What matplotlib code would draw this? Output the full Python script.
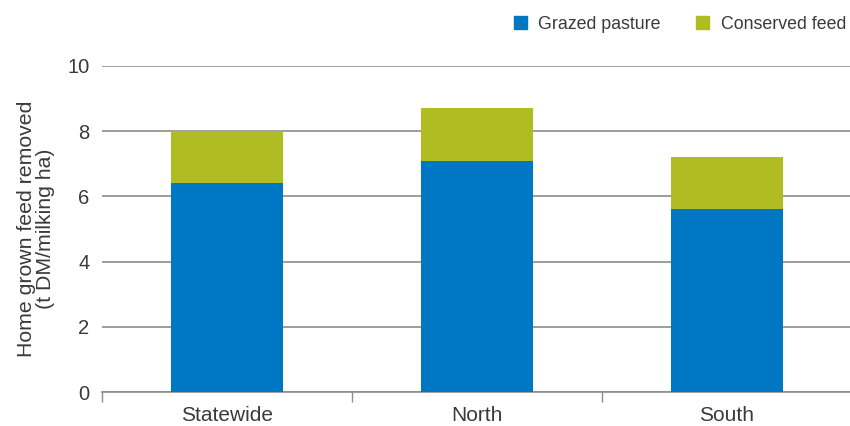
import matplotlib
matplotlib.use("Agg")
import matplotlib.pyplot as plt
from matplotlib.patches import Patch

regions = ["Statewide", "North", "South"]
grazed_pasture = [6.4, 7.1, 5.6]
conserved_feed = [1.6, 1.6, 1.6]
y_ticks = [0, 2, 4, 6, 8, 10]

blue = "#0077C2"
green = "#AFBC22"
text_color = "#3A3A3A"
grid_color = "#8C8C8C"

plt.rcParams["font.family"] = ["Liberation Sans", "DejaVu Sans"]

fig = plt.figure(figsize=(8.5, 4.26), dpi=100)
ax = fig.add_axes([102 / 850, 1 - 392 / 426, 750 / 850, (392 - 66) / 426])

x = list(range(len(regions)))
ax.bar(x, grazed_pasture, width=0.45, color=blue, zorder=3)
ax.bar(x, conserved_feed, width=0.45, bottom=grazed_pasture, color=green, zorder=3)

ax.set_xlim(-0.5, 2.5)
ax.set_ylim(0, 10)
ax.set_yticks(y_ticks)
ax.set_yticklabels([str(v) for v in y_ticks], fontsize=14.5, color=text_color)
ax.tick_params(axis="y", length=0, pad=9)

# category labels centred under bars, boundary ticks between categories
ax.set_xticks([-0.5, 0.5, 1.5])
ax.set_xticklabels([])
ax.tick_params(axis="x", length=7, width=1, color=grid_color, direction="out")
for xi, name in zip(x, regions):
    ax.text(xi, -0.42, name, ha="center", va="top", fontsize=15,
            color=text_color, transform=ax.transData, clip_on=False)

ax.yaxis.grid(True, color=grid_color, linewidth=1.2, zorder=0)
for side in ["top", "right", "left"]:
    ax.spines[side].set_visible(False)
ax.spines["bottom"].set_color(grid_color)
ax.spines["bottom"].set_linewidth(1.2)

ax.set_ylabel("Home grown feed removed\n(t DM/milking ha)", fontsize=15.3,
              color=text_color, linespacing=1.0, labelpad=9)

handles = [Patch(color=blue, label="Grazed pasture"),
           Patch(color=green, label="Conserved feed")]
fig.legend(handles=handles, loc="upper right", bbox_to_anchor=(1.014, 1.0),
           ncol=2, frameon=False, fontsize=12.8, handlelength=0.75,
           handleheight=0.75, handletextpad=0.65, columnspacing=1.95,
           labelcolor=text_color)

fig.savefig("out.png", dpi=100)
